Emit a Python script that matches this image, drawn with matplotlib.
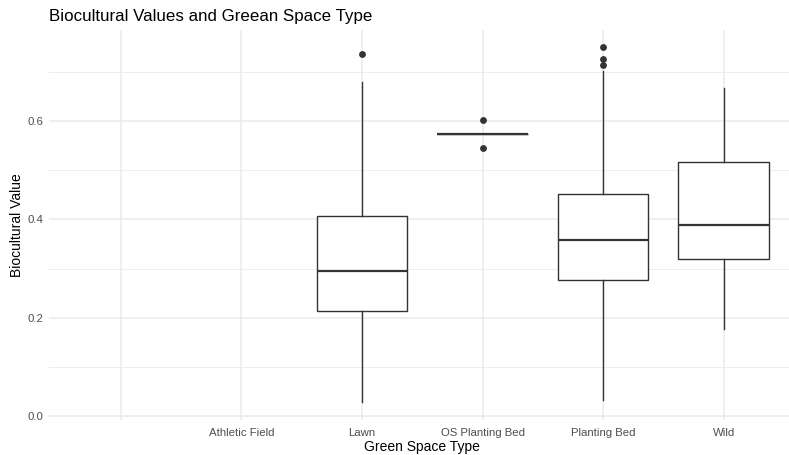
import matplotlib
matplotlib.use("Agg")
import matplotlib.pyplot as plt

plt.rcParams['font.family'] = ['Liberation Sans', 'DejaVu Sans']

# Categories along the x axis (first level is an unnamed/blank group)
categories = ["", "Athletic Field", "Lawn", "OS Planting Bed", "Planting Bed", "Wild"]

# Box summaries for the groups that have data (position = index in categories, 1-based)
groups = ["Lawn", "OS Planting Bed", "Planting Bed", "Wild"]
whisker_low = [0.028, 0.574, 0.033, 0.177]
q1 = [0.213, 0.574, 0.276, 0.320]
median = [0.294, 0.574, 0.358, 0.388]
q3 = [0.407, 0.574, 0.451, 0.517]
whisker_high = [0.680, 0.574, 0.702, 0.668]
outliers = [
    [0.736],
    [0.602, 0.546],
    [0.750, 0.727, 0.714],
    [],
]

W, H = 789, 455
fig = plt.figure(figsize=(W / 100, H / 100), dpi=100)
left, right, top, bottom = 48.6, 796.0, 29.5, 420.0
ax = fig.add_axes([left / W, 1 - bottom / H, (right - left) / W, (bottom - top) / H])

stats = []
for i, g in enumerate(groups):
    stats.append(dict(med=median[i], q1=q1[i], q3=q3[i],
                      whislo=whisker_low[i], whishi=whisker_high[i],
                      fliers=outliers[i], label=g))
positions = [categories.index(g) + 1 for g in groups]

edge = "#333333"
ax.bxp(stats, positions=positions, widths=0.75, showcaps=False,
       patch_artist=True, manage_ticks=False,
       boxprops=dict(facecolor="white", edgecolor=edge, linewidth=1.0),
       whiskerprops=dict(color=edge, linewidth=1.0),
       medianprops=dict(color=edge, linewidth=1.6, solid_capstyle="butt"),
       flierprops=dict(marker="o", markersize=3.9, markerfacecolor=edge,
                       markeredgecolor=edge, linestyle="none"),
       zorder=3)

ax.set_xlim(0.4, len(categories) + 0.6)
ax.set_ylim(-0.008, 0.786)
ax.set_xticks(range(1, len(categories) + 1))
ax.set_xticklabels(categories)
ax.set_yticks([0.0, 0.2, 0.4, 0.6])
ax.set_yticklabels(["0.0", "0.2", "0.4", "0.6"])
ax.set_yticks([0.1, 0.3, 0.5, 0.7], minor=True)

ax.grid(True, which="major", color="#EBEBEB", linewidth=1.1, zorder=0)
ax.grid(True, which="minor", axis="y", color="#EBEBEB", linewidth=0.6, zorder=0)
ax.set_axisbelow(True)
for s in ax.spines.values():
    s.set_visible(False)
ax.tick_params(axis="both", which="both", length=0, colors="#4D4D4D", labelsize=8.2)
ax.tick_params(axis="x", pad=5.5)
ax.tick_params(axis="y", pad=3.5)

ax.set_xlabel("Green Space Type", fontsize=10.0, color="black", labelpad=1.5)
ax.set_ylabel("Biocultural Value", fontsize=10.0, color="black", labelpad=3)
fig.text(left / W, 1 - 16 / H, "Biocultural Values and Greean Space Type",
         fontsize=12.2, color="black", ha="left", va="center")

fig.savefig("out.png", dpi=100)
